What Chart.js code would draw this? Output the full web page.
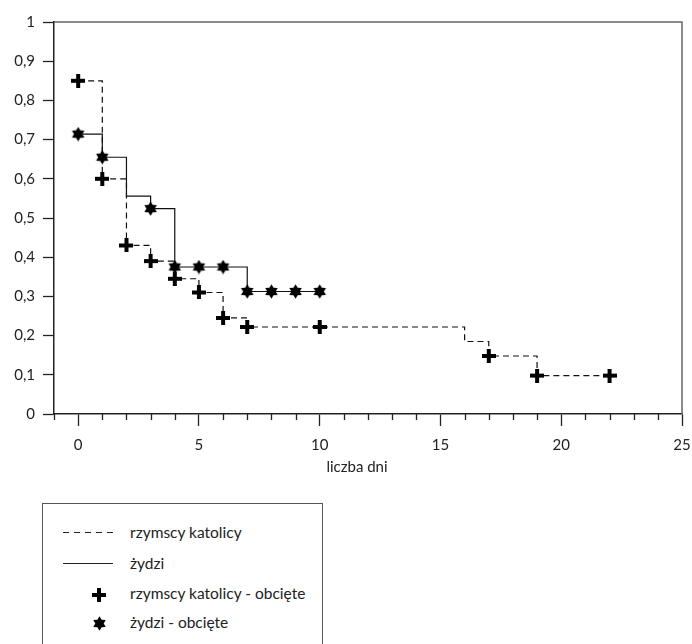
<!DOCTYPE html>
<html lang="pl">
<head>
<meta charset="UTF-8">
<title>Krzywe przeżycia</title>
<style>
    * { margin: 0; padding: 0; box-sizing: border-box; }
    body { width: 692px; height: 644px; background: #fff; position: relative; overflow: hidden; font-family: Lato, "Open Sans", sans-serif; color: #222; }
    #chartBox { position: absolute; left: 0; top: 0; width: 692px; height: 490px; }
    .axis-title { position: absolute; left: 257px; top: 457px; width: 200px; text-align: center; font-size: 15px; line-height: 18px; }
    .legend-box { position: absolute; left: 42px; top: 503px; width: 281px; height: 170px; border: 1px solid #555; }
    .legend-row { position: absolute; left: 0; height: 20px; width: 100%; font-size: 15.5px; line-height: 20px; }
    .legend-row span { position: absolute; left: 87px; top: 0; white-space: nowrap; }
    .sample-line { position: absolute; left: 20px; top: 10px; width: 50px; height: 1px; }
    .dashed { background: repeating-linear-gradient(to right, #222 0 6px, transparent 6px 11px); }
    .solid { background: #222; }
    .sample-mark { position: absolute; left: 49px; top: 3px; }
</style>
</head>
<body>
<div id="chartBox"><canvas id="kmChart" width="692" height="490"></canvas></div>
<div class="axis-title">liczba dni</div>

<div class="legend-box">
    <div class="legend-row" style="top: 18px;">
        <div class="sample-line dashed"></div>
        <span>rzymscy katolicy</span>
    </div>
    <div class="legend-row" style="top: 49px;">
        <div class="sample-line solid"></div>
        <span>żydzi</span>
    </div>
    <div class="legend-row" style="top: 79px;">
        <div class="sample-mark" id="legCross"></div>
        <span>rzymscy katolicy - obcięte</span>
    </div>
    <div class="legend-row" style="top: 108px;">
        <div class="sample-mark" id="legStar"></div>
        <span>żydzi - obcięte</span>
    </div>
</div>

<script src="https://cdn.jsdelivr.net/npm/chart.js"></script>
<script>
    // krzywa rzymskich katolików (schodkowa)
    const katX = [0, 1, 2, 3, 4, 5, 6, 7, 16, 17, 19, 22];
    const katY = [0.85, 0.6, 0.43, 0.39, 0.345, 0.31, 0.245, 0.222, 0.185, 0.148, 0.098, 0.098];
    // obserwacje obcięte - katolicy
    const katCensX = [0, 1, 2, 3, 4, 5, 6, 7, 10, 17, 19, 22];
    const katCensY = [0.85, 0.6, 0.43, 0.39, 0.345, 0.31, 0.245, 0.222, 0.222, 0.148, 0.098, 0.098];

    // krzywa żydów
    const zydX = [0, 1, 2, 3, 4, 7, 10];
    const zydY = [0.714, 0.655, 0.556, 0.524, 0.375, 0.3125, 0.3125];
    // obserwacje obcięte - żydzi
    const zydCensX = [0, 1, 3, 4, 5, 6, 7, 8, 9, 10];
    const zydCensY = [0.714, 0.655, 0.524, 0.375, 0.375, 0.375, 0.3125, 0.3125, 0.3125, 0.3125];

    const toPoints = (xs, ys) => xs.map((x, i) => ({ x: x, y: ys[i] }));

    // markers
    function crossMark() {
        const c = document.createElement('canvas');
        c.width = 14; c.height = 14;
        const g = c.getContext('2d');
        g.fillStyle = '#000';
        g.fillRect(0, 5, 14, 4);
        g.fillRect(5, 0, 4, 14);
        return c;
    }
    function starMark() {
        const c = document.createElement('canvas');
        c.width = 15; c.height = 15;
        const g = c.getContext('2d');
        const R = 7.2, r = 4.2;
        g.fillStyle = '#000';
        g.beginPath();
        for (let i = 0; i < 12; i++) {
            const a = -Math.PI / 2 + i * Math.PI / 6;
            const rad = i % 2 === 0 ? R : r;
            const px = 7.5 + rad * Math.cos(a), py = 7.5 + rad * Math.sin(a);
            if (i === 0) g.moveTo(px, py); else g.lineTo(px, py);
        }
        g.closePath();
        g.fill();
        return c;
    }
    const crossImg = crossMark();
    const starImg = starMark();
    document.getElementById('legCross').appendChild(crossMark());
    document.getElementById('legStar').appendChild(starMark());

    // ramka + krótkie podziałki na osi x
    const framePlugin = {
        id: 'frame',
        afterDatasetsDraw(chart) {
            const { ctx, chartArea: a } = chart;
            const xs = chart.scales.x;
            ctx.save();
            ctx.strokeStyle = '#666';
            ctx.lineWidth = 1.5;
            ctx.beginPath();
            ctx.moveTo(a.left, a.top);
            ctx.lineTo(a.right, a.top);
            ctx.lineTo(a.right, a.bottom);
            ctx.stroke();
            ctx.strokeStyle = '#222';
            ctx.lineWidth = 1.3;
            ctx.beginPath();
            for (let v = -1; v <= 25; v++) {
                if (v % 5 === 0) continue;
                const px = Math.round(xs.getPixelForValue(v)) + 0.5;
                ctx.moveTo(px, a.bottom);
                ctx.lineTo(px, a.bottom + 6);
            }
            ctx.stroke();
            ctx.restore();
        }
    };

    const tickFont = { family: 'Lato, "Open Sans", sans-serif', size: 15 };

    new Chart(document.getElementById('kmChart'), {
        type: 'scatter',
        data: {
            datasets: [
                {
                    label: 'rzymscy katolicy - obcięte',
                    data: toPoints(katCensX, katCensY),
                    pointStyle: crossImg,
                    order: 0
                },
                {
                    label: 'żydzi - obcięte',
                    data: toPoints(zydCensX, zydCensY),
                    pointStyle: starImg,
                    order: 0
                },
                {
                    label: 'rzymscy katolicy',
                    data: toPoints(katX, katY),
                    showLine: true,
                    stepped: 'before',
                    borderColor: '#111',
                    borderWidth: 1.2,
                    borderDash: [6, 4],
                    pointRadius: 0,
                    fill: false,
                    order: 1
                },
                {
                    label: 'żydzi',
                    data: toPoints(zydX, zydY),
                    showLine: true,
                    stepped: 'before',
                    borderColor: '#111',
                    borderWidth: 1.2,
                    pointRadius: 0,
                    fill: false,
                    order: 1
                }
            ]
        },
        options: {
            responsive: false,
            animation: false,
            devicePixelRatio: 1,
            layout: { padding: { top: 22, right: 10, left: 0, bottom: 0 } },
            plugins: { legend: { display: false }, tooltip: { enabled: false } },
            scales: {
                x: {
                    type: 'linear',
                    min: -1,
                    max: 25,
                    afterFit: s => { s.height = 76; s.paddingLeft = 0; s.paddingRight = 0; },
                    ticks: { stepSize: 5, includeBounds: false, color: '#222', font: tickFont, padding: 10, maxRotation: 0 },
                    grid: { drawOnChartArea: false, drawTicks: true, tickLength: 12, tickColor: '#222', tickWidth: 1.3 },
                    border: { display: true, color: '#222', width: 1.5 }
                },
                y: {
                    min: 0,
                    max: 1,
                    afterFit: s => { s.width = 54; s.paddingTop = 0; s.paddingBottom = 0; },
                    ticks: {
                        stepSize: 0.1,
                        color: '#222',
                        font: tickFont,
                        padding: 8,
                        callback: v => (Math.abs(v) < 1e-9 ? '0' : Math.abs(v - 1) < 1e-9 ? '1' : v.toFixed(1).replace('.', ','))
                    },
                    grid: { drawOnChartArea: false, drawTicks: true, tickLength: 11, tickColor: '#222', tickWidth: 1.3 },
                    border: { display: true, color: '#222', width: 1.5 }
                }
            }
        },
        plugins: [framePlugin]
    });
</script>
</body>
</html>
